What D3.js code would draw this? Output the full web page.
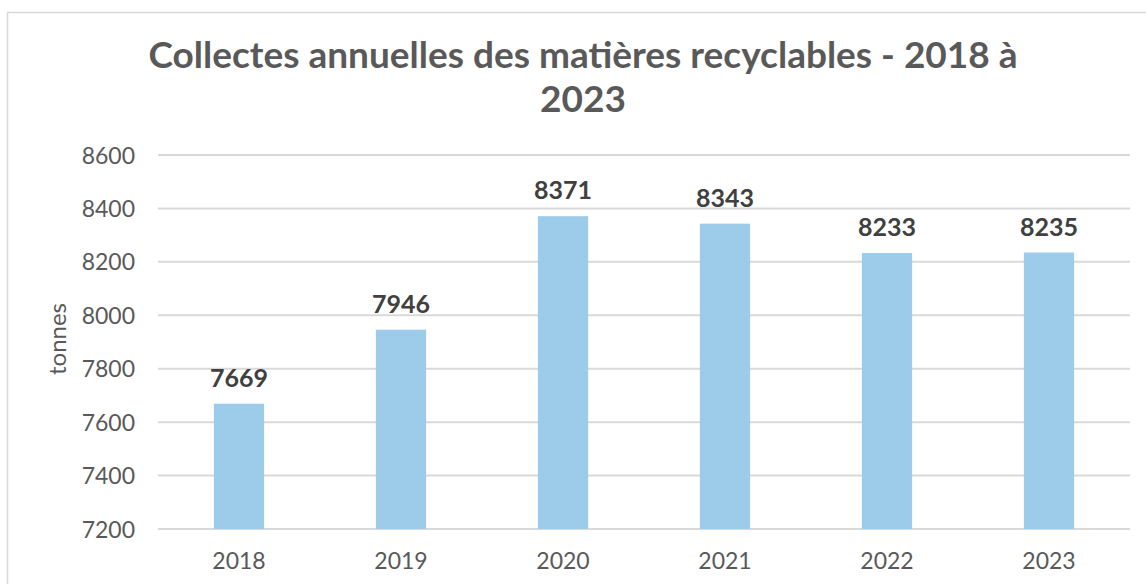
<!DOCTYPE html>
<html><head><meta charset="utf-8">
<script src="https://cdn.jsdelivr.net/npm/d3@7"></script>
<style>body{margin:0;background:#fff;}svg{display:block;font-family:Lato,"Open Sans",sans-serif;}</style>
</head><body><svg id="c" width="1146" height="584"></svg>
<script>
const categories = ["2018","2019","2020","2021","2022","2023"];
const values = [7669, 7946, 8371, 8343, 8233, 8235];
const yTicks = [7200,7400,7600,7800,8000,8200,8400,8600];
const titleLines = ["Collectes annuelles des matières recyclables - 2018 à","2023"];
const yTitle = "tonnes";

(function(){
const svg = d3.select("#c");
svg.append("rect").attr("x",7.5).attr("y",12.5).attr("width",1160).attr("height",600)
  .attr("fill","#fff").attr("stroke","#d9d9d9").attr("stroke-width",1.5);

const pLeft=158, pRight=1130, pTop=155, pBottom=529;
const x = d3.scaleBand().domain(categories).range([pLeft,pRight]).paddingInner(0).paddingOuter(0);
const y = d3.scaleLinear().domain([7200,8600]).range([pBottom,pTop]);
const barW = x.bandwidth()*0.31;

const grid = svg.append("g").attr("class","grid");
grid.selectAll("line").data(yTicks).join("line")
  .attr("x1",pLeft).attr("x2",pRight)
  .attr("y1",d=>y(d)).attr("y2",d=>y(d))
  .attr("stroke","#d9d9d9").attr("stroke-width",2);

const yAxis = d3.axisLeft(y).tickValues(yTicks).tickSize(0).tickPadding(0).tickFormat(d3.format("d"));
const ya = svg.append("g").attr("transform",`translate(135,0)`).call(yAxis);
ya.select(".domain").remove();
ya.selectAll("text").attr("font-size",23).attr("fill","#595959").attr("font-family","Lato").attr("dy","0.35em");

const xAxis = d3.axisBottom(x).tickSize(0).tickPadding(0);
const xa = svg.append("g").attr("transform",`translate(0,${pBottom})`).call(xAxis);
xa.select(".domain").remove();
xa.selectAll("text").attr("font-size",23).attr("fill","#595959").attr("font-family","Lato").attr("dy",null).attr("y",40);

svg.append("g").selectAll("rect").data(values).join("rect")
  .attr("x",(d,i)=>x(categories[i])+x.bandwidth()/2-barW/2)
  .attr("width",barW)
  .attr("y",d=>y(d)).attr("height",d=>pBottom-y(d))
  .attr("fill","#9dcbea");

svg.append("g").selectAll("text").data(values).join("text")
  .attr("x",(d,i)=>x(categories[i])+x.bandwidth()/2)
  .attr("y",d=>y(d)-17)
  .attr("text-anchor","middle").attr("font-size",25).attr("font-weight","bold")
  .attr("fill","#404040").text(d=>d);

svg.append("text").attr("transform","translate(66,339) rotate(-90)")
  .attr("text-anchor","middle").attr("font-size",24).attr("fill","#595959").text(yTitle);

svg.append("g").selectAll("text").data(titleLines).join("text")
  .attr("x",583).attr("y",(d,i)=>68+i*44)
  .attr("text-anchor","middle").attr("font-size",37).attr("font-weight","bold")
  .attr("fill","#595959").text(d=>d);
})();
</script></body></html>
